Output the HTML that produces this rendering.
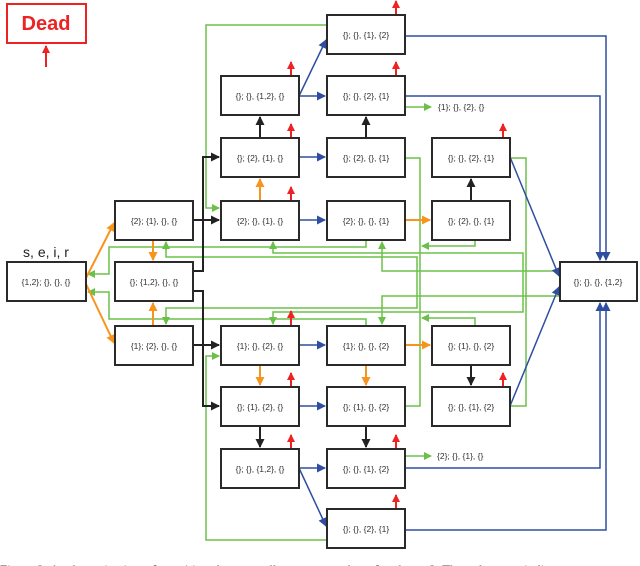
<!DOCTYPE html>
<html><head><meta charset="utf-8"><style>
html,body{margin:0;padding:0;background:#fff;}
svg{display:block;}
text{font-family:"Liberation Sans",sans-serif;}
.b{fill:#fff;stroke:#2a2a2a;stroke-width:2;}
.t{font-size:8.5px;fill:#333;text-anchor:middle;}
.g{fill:none;stroke:#6cc04a;stroke-width:1.5;}
.bl{fill:none;stroke:#2f4ea0;stroke-width:1.5;}
.k{fill:none;stroke:#222;stroke-width:2;}
.o{fill:none;stroke:#f7941d;stroke-width:2;}
.r{fill:none;stroke:#ee2222;stroke-width:2;}
</style></head><body>
<svg width="640" height="566" viewBox="0 0 640 566" xmlns="http://www.w3.org/2000/svg">
<defs>
<marker id="mg" markerWidth="8" markerHeight="8" refX="7" refY="4" orient="auto" markerUnits="userSpaceOnUse"><path d="M0,0 L8,4 L0,8z" fill="#6cc04a"/></marker>
<marker id="mb" markerWidth="9" markerHeight="9" refX="8" refY="4.5" orient="auto" markerUnits="userSpaceOnUse"><path d="M0,0 L9,4.5 L0,9z" fill="#2f4ea0"/></marker>
<marker id="mk" markerWidth="9" markerHeight="9" refX="8" refY="4.5" orient="auto" markerUnits="userSpaceOnUse"><path d="M0,0 L9,4.5 L0,9z" fill="#222"/></marker>
<marker id="mo" markerWidth="9" markerHeight="9" refX="8" refY="4.5" orient="auto" markerUnits="userSpaceOnUse"><path d="M0,0 L9,4.5 L0,9z" fill="#f7941d"/></marker>
<marker id="mr" markerWidth="8" markerHeight="8" refX="7" refY="4" orient="auto" markerUnits="userSpaceOnUse"><path d="M0,0 L8,4 L0,8z" fill="#ee2222"/></marker>
</defs>

<g class="g">
<polyline points="327,25 206,25 206,208 219,208" marker-end="url(#mg)"/>
<polyline points="327,540 206,540 206,356 219,356" marker-end="url(#mg)"/>
<polyline points="366,240 366,247 109,247 109,274 88,274" marker-end="url(#mg)"/>
<polyline points="366,326 366,319 109,319 109,292 88,292" marker-end="url(#mg)"/>
<polyline points="166,242 166,257 417,257 417,308 166,308 166,324" marker-start="url(#mgs)"/>
<polyline points="166,250 166,242" marker-end="url(#mg)"/>
<polyline points="166,316 166,324" marker-end="url(#mg)"/>
<polyline points="273,242 273,253 523,253 523,312 273,312 273,324"/>
<polyline points="273,248 273,242" marker-end="url(#mg)"/>
<polyline points="273,318 273,324" marker-end="url(#mg)"/>
<polyline points="560,271 382,271 382,242" marker-end="url(#mg)"/>
<polyline points="560,296 382,296 382,324" marker-end="url(#mg)"/>
<polyline points="405,158 420,158 420,406 405,406"/>
<polyline points="475,240 475,246 422,246" marker-end="url(#mg)"/>
<polyline points="475,326 475,318 422,318" marker-end="url(#mg)"/>
<polyline points="510,158 526,158 526,406 510,406"/>
<polyline points="405,107 431,107" marker-end="url(#mg)"/>
<polyline points="405,456 431,456" marker-end="url(#mg)"/>
</g>

<g class="bl">
<polyline points="299,96 325,96" marker-end="url(#mb)"/>
<polyline points="299,96 326,40" marker-end="url(#mb)"/>
<polyline points="299,157 325,157" marker-end="url(#mb)"/>
<polyline points="299,220 325,220" marker-end="url(#mb)"/>
<polyline points="299,345 325,345" marker-end="url(#mb)"/>
<polyline points="299,406 325,406" marker-end="url(#mb)"/>
<polyline points="299,468 325,468" marker-end="url(#mb)"/>
<polyline points="299,468 326,526" marker-end="url(#mb)"/>
<polyline points="405,36 606,36 606,260" marker-end="url(#mb)"/>
<polyline points="405,96 600,96 600,260" marker-end="url(#mb)"/>
<polyline points="405,468 600,468 600,303" marker-end="url(#mb)"/>
<polyline points="405,530 606,530 606,303" marker-end="url(#mb)"/>
<polyline points="510,157 559,276" marker-end="url(#mb)"/>
<polyline points="510,406 559,287" marker-end="url(#mb)"/>
</g>

<g class="k">
<polyline points="193,220 219,220" marker-end="url(#mk)"/>
<polyline points="193,345 219,345" marker-end="url(#mk)"/>
<polyline points="193,271 203,271 203,157 219,157" marker-end="url(#mk)"/>
<polyline points="193,291 203,291 203,406 219,406" marker-end="url(#mk)"/>
<polyline points="260,138 260,117" marker-end="url(#mk)"/>
<polyline points="366,138 366,117" marker-end="url(#mk)"/>
<polyline points="471,201 471,179" marker-end="url(#mk)"/>
<polyline points="260,426 260,447" marker-end="url(#mk)"/>
<polyline points="366,426 366,447" marker-end="url(#mk)"/>
<polyline points="471,365 471,385" marker-end="url(#mk)"/>
</g>

<g class="o">
<polyline points="86,278 114,223" marker-end="url(#mo)"/>
<polyline points="86,284 114,343" marker-end="url(#mo)"/>
<polyline points="153,240 153,260" marker-end="url(#mo)"/>
<polyline points="153,326 153,303" marker-end="url(#mo)"/>
<polyline points="260,201 260,179" marker-end="url(#mo)"/>
<polyline points="260,365 260,385" marker-end="url(#mo)"/>
<polyline points="366,365 366,385" marker-end="url(#mo)"/>
<polyline points="405,220 430,220" marker-end="url(#mo)"/>
<polyline points="405,345 430,345" marker-end="url(#mo)"/>
</g>

<g class="r">
<polyline points="46,67 46,46" marker-end="url(#mr)"/>
<polyline points="291,76 291,62" marker-end="url(#mr)"/>
<polyline points="291,138 291,124" marker-end="url(#mr)"/>
<polyline points="291,201 291,187" marker-end="url(#mr)"/>
<polyline points="291,326 291,311" marker-end="url(#mr)"/>
<polyline points="291,387 291,373" marker-end="url(#mr)"/>
<polyline points="291,449 291,435" marker-end="url(#mr)"/>
<polyline points="396,15 396,1" marker-end="url(#mr)"/>
<polyline points="396,76 396,62" marker-end="url(#mr)"/>
<polyline points="396,449 396,435" marker-end="url(#mr)"/>
<polyline points="396,509 396,495" marker-end="url(#mr)"/>
<polyline points="503,138 503,124" marker-end="url(#mr)"/>
<polyline points="503,387 503,373" marker-end="url(#mr)"/>
</g>

<rect x="7" y="4" width="79" height="39" fill="#fff" stroke="#ee2222" stroke-width="2"/>
<text x="46" y="30" font-size="20" font-weight="bold" fill="#ee2222" text-anchor="middle">Dead</text>

<text x="46" y="257" font-size="14" fill="#222" text-anchor="middle">s, e, i, r</text>

<g>
<rect class="b" x="7" y="262" width="79" height="39"/><text class="t" x="46" y="285">{1,2}; {}, {}, {}</text>
<rect class="b" x="115" y="201" width="78" height="39"/><text class="t" x="154" y="224">{2}; {1}, {}, {}</text>
<rect class="b" x="115" y="262" width="78" height="39"/><text class="t" x="154" y="285">{}; {1,2}, {}, {}</text>
<rect class="b" x="115" y="326" width="78" height="39"/><text class="t" x="154" y="349">{1}; {2}, {}, {}</text>

<rect class="b" x="221" y="76" width="78" height="39"/><text class="t" x="260" y="99">{}; {}, {1,2}, {}</text>
<rect class="b" x="221" y="138" width="78" height="39"/><text class="t" x="260" y="161">{}; {2}, {1}, {}</text>
<rect class="b" x="221" y="201" width="78" height="39"/><text class="t" x="260" y="224">{2}; {}, {1}, {}</text>
<rect class="b" x="221" y="326" width="78" height="39"/><text class="t" x="260" y="349">{1}; {}, {2}, {}</text>
<rect class="b" x="221" y="387" width="78" height="39"/><text class="t" x="260" y="410">{}; {1}, {2}, {}</text>
<rect class="b" x="221" y="449" width="78" height="39"/><text class="t" x="260" y="472">{}; {}, {1,2}, {}</text>

<rect class="b" x="327" y="15" width="78" height="39"/><text class="t" x="366" y="38">{}; {}, {1}, {2}</text>
<rect class="b" x="327" y="76" width="78" height="39"/><text class="t" x="366" y="99">{}; {}, {2}, {1}</text>
<rect class="b" x="327" y="138" width="78" height="39"/><text class="t" x="366" y="161">{}; {2}, {}, {1}</text>
<rect class="b" x="327" y="201" width="78" height="39"/><text class="t" x="366" y="224">{2}; {}, {}, {1}</text>
<rect class="b" x="327" y="326" width="78" height="39"/><text class="t" x="366" y="349">{1}; {}, {}, {2}</text>
<rect class="b" x="327" y="387" width="78" height="39"/><text class="t" x="366" y="410">{}; {1}, {}, {2}</text>
<rect class="b" x="327" y="449" width="78" height="39"/><text class="t" x="366" y="472">{}; {}, {1}, {2}</text>
<rect class="b" x="327" y="509" width="78" height="39"/><text class="t" x="366" y="532">{}; {}, {2}, {1}</text>

<rect class="b" x="432" y="138" width="78" height="39"/><text class="t" x="471" y="161">{}; {}, {2}, {1}</text>
<rect class="b" x="432" y="201" width="78" height="39"/><text class="t" x="471" y="224">{}; {2}, {}, {1}</text>
<rect class="b" x="432" y="326" width="78" height="39"/><text class="t" x="471" y="349">{}; {1}, {}, {2}</text>
<rect class="b" x="432" y="387" width="78" height="39"/><text class="t" x="471" y="410">{}; {}, {1}, {2}</text>

<rect class="b" x="560" y="262" width="77" height="39"/><text class="t" x="598" y="285">{}; {}, {}, {1,2}</text>
</g>

<text x="438" y="110" font-size="8.5" fill="#333">{1}; {}, {2}, {}</text>
<text x="437" y="459" font-size="8.5" fill="#333">{2}; {}, {1}, {}</text>

<text x="0" y="574" font-size="13" fill="#444" style="font-family:'Liberation Serif',serif">Figure 2:  A schematic view of transitions between all states ... number of nodes n=2.  The red arrows indicate</text>
</svg>
</body></html>
